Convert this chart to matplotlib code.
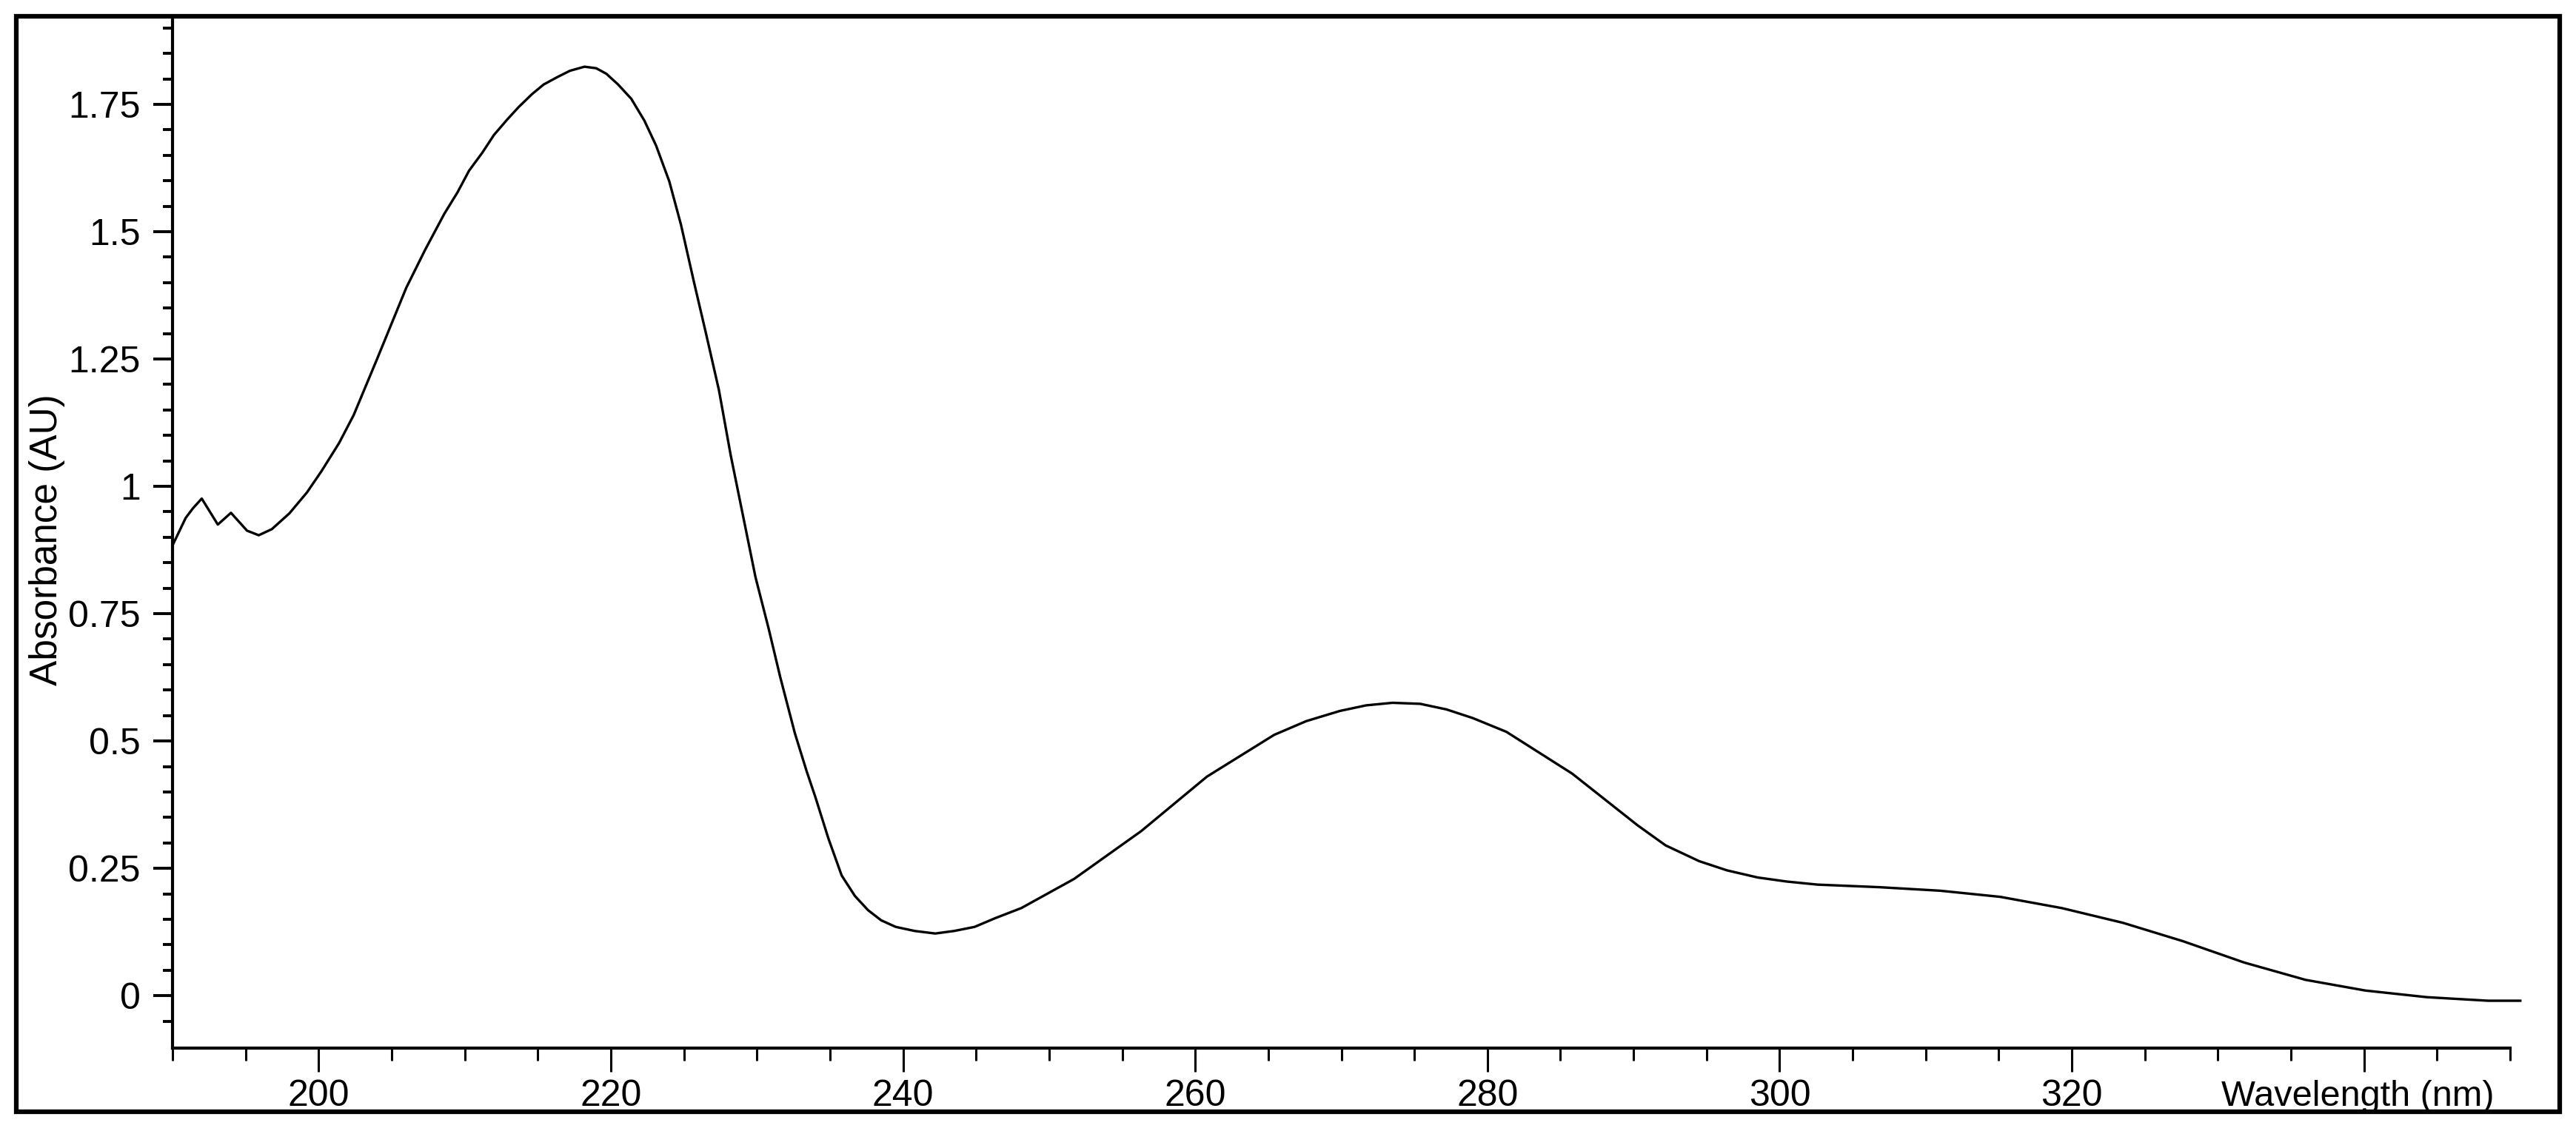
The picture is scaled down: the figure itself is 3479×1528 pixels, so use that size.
import numpy as np
import matplotlib.pyplot as plt
from matplotlib.patches import Rectangle
from matplotlib.ticker import MultipleLocator, FixedLocator

plt.rcParams['font.family'] = ['Liberation Sans', 'DejaVu Sans']

# UV spectrum
wavelength = [190.0, 190.9, 191.4, 192.0, 193.1, 194.0, 195.1, 195.9, 196.8, 198.0,
              199.2, 200.2, 201.4, 202.4, 203.2, 204.0, 205.0, 206.0, 207.3, 208.6,
              209.5, 210.3, 211.2, 212.0, 212.9, 213.7, 214.6, 215.4, 216.3, 217.2,
              218.2, 219.0, 219.7, 220.5, 221.4, 222.3, 223.1, 224.0, 224.8, 225.7,
              226.5, 227.4, 228.2, 229.1, 229.9, 230.8, 231.6, 232.6, 233.4, 234.0,
              234.9, 235.8, 236.7, 237.6, 238.5, 239.5, 240.8, 242.2, 243.5, 244.9,
              246.3, 248.1, 251.7, 256.3, 260.8, 265.4, 267.6, 269.9, 271.7, 273.5,
              275.4, 277.2, 279.0, 281.3, 285.8, 290.3, 292.2, 294.5, 296.4, 298.5,
              300.5, 302.6, 306.8, 311.0, 315.1, 319.3, 323.5, 327.6, 331.8, 336.0,
              340.1, 344.3, 348.5, 350.7]
absorbance = [0.884, 0.938, 0.957, 0.976, 0.925, 0.948, 0.913, 0.904, 0.916, 0.947,
              0.988, 1.030, 1.085, 1.140, 1.195, 1.250, 1.320, 1.390, 1.465, 1.535,
              1.577, 1.620, 1.655, 1.690, 1.720, 1.745, 1.770, 1.789, 1.803, 1.816,
              1.824, 1.821, 1.810, 1.789, 1.761, 1.718, 1.669, 1.599, 1.514, 1.400,
              1.302, 1.189, 1.062, 0.935, 0.822, 0.721, 0.625, 0.515, 0.441, 0.390,
              0.308, 0.236, 0.196, 0.168, 0.148, 0.135, 0.127, 0.122, 0.127, 0.135,
              0.152, 0.172, 0.229, 0.323, 0.430, 0.512, 0.539, 0.559, 0.570, 0.575,
              0.573, 0.562, 0.545, 0.518, 0.436, 0.334, 0.295, 0.264, 0.246, 0.232,
              0.224, 0.218, 0.213, 0.206, 0.194, 0.172, 0.143, 0.107, 0.065, 0.031,
              0.010, -0.003, -0.010, -0.010]

x_major = [200, 220, 240, 260, 280, 300, 320, 340]
x_labels = ['200', '220', '240', '260', '280', '300', '320', '']
y_major = [0, 0.25, 0.5, 0.75, 1, 1.25, 1.5, 1.75]
y_labels = ['0', '0.25', '0.5', '0.75', '1', '1.25', '1.5', '1.75']

W, H = 3480, 1528
fig = plt.figure(figsize=(W / 100, H / 100), dpi=100)

# outer frame
fig.add_artist(Rectangle((22 / W, 26 / H), (3457 - 22) / W, (1502 - 22) / H,
                         transform=fig.transFigure, fill=False, lw=4.5, ec='black'))

left, right, bottom, top = 233 / W, 3390 / W, 1 - 1416 / H, 1 - 22 / H
ax = fig.add_axes([left, bottom, right - left, top - bottom])

ax.plot(wavelength, absorbance, color='black', lw=2.4, clip_on=False,
        solid_joinstyle='round')

ax.set_xlim(190, 350)
ax.set_ylim(-0.103, 1.923)

ax.spines['top'].set_visible(False)
ax.spines['right'].set_visible(False)
ax.spines['left'].set_linewidth(3)
ax.spines['bottom'].set_linewidth(3)

ax.xaxis.set_major_locator(FixedLocator(x_major))
ax.set_xticklabels(x_labels)
ax.xaxis.set_minor_locator(MultipleLocator(5))
ax.yaxis.set_major_locator(FixedLocator(y_major))
ax.set_yticklabels(y_labels)
ax.yaxis.set_minor_locator(FixedLocator(np.arange(-0.05, 1.91, 0.05)))

ax.tick_params(axis='x', which='major', direction='out', length=23, width=2.2,
               pad=7, labelsize=36)
ax.tick_params(axis='x', which='minor', direction='out', length=12, width=2.2)
ax.tick_params(axis='y', which='major', direction='out', length=19, width=2.8,
               pad=12, labelsize=36)
ax.tick_params(axis='y', which='minor', direction='out', length=9.5, width=2.8)

fig.text(3369 / W, 1 - 1494 / H, 'Wavelength (nm)', ha='right', va='baseline',
         fontsize=35)
fig.text(64 / W, 1 - 729 / H, 'Absorbance (AU)', rotation=90, ha='center',
         va='center', fontsize=37)

fig.savefig('out.png', dpi=100)
